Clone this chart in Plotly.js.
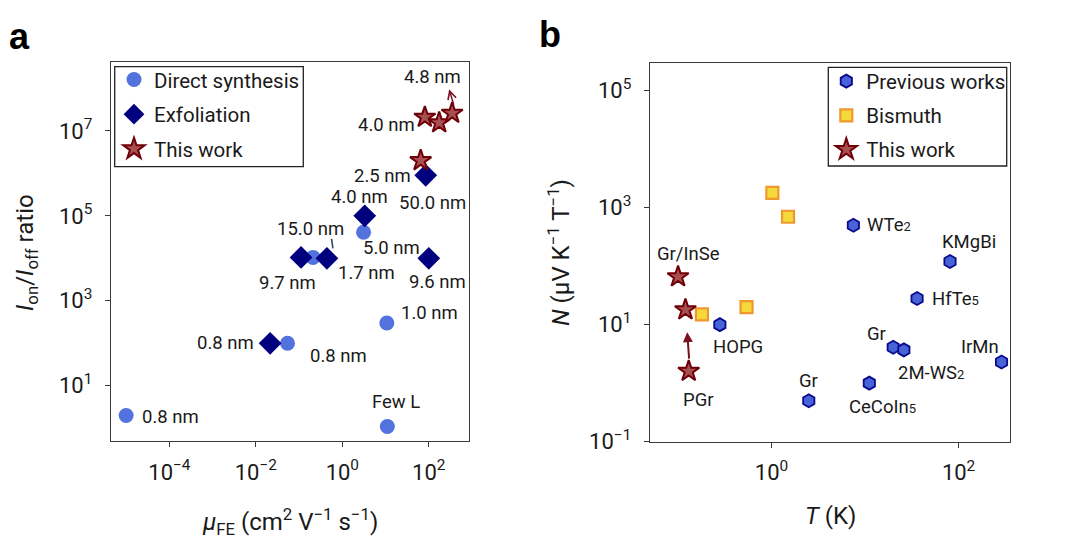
<!DOCTYPE html>
<html><head><meta charset="utf-8">
<script src="https://cdn.plot.ly/plotly-3.0.1.min.js"></script>
<style>html,body{margin:0;padding:0;background:#fff}#chart{width:1078px;height:544px}</style>
</head><body><div id="chart"></div>
<script>
// ---------- Panel a data: field-effect mobility vs on/off ratio ----------
const directMobility = [1e-5, 11, 10.7, 0.054, 3.1, 0.21];
const directRatio    = [2, 1.1, 300, 100, 4.1e4, 1.05e4];
const directLabels   = ['0.8 nm', 'Few L', '1.0 nm', '0.8 nm', '5.0 nm', '15.0 nm'];

const exfoMobility = [0.0214, 0.111, 0.44, 3.3, 100, 85];
const exfoRatio    = [100, 1.05e4, 1.0e4, 1.0e5, 1.0e4, 9e5];
const exfoLabels   = ['0.8 nm', '9.7 nm', '1.7 nm', '4.0 nm', '9.6 nm', '50.0 nm'];

const workMobility = [65, 81, 174, 347];
const workRatio    = [2.0e6, 2.1e7, 1.55e7, 2.6e7];
const workLabels   = ['2.5 nm', '4.0 nm', '', '4.8 nm'];

// ---------- Panel b data: temperature vs Nernst coefficient ----------
const prevT      = [7.5, 81, 36, 0.28, 20, 26, 288, 11.1, 2.5];
const prevN      = [500, 120, 28, 10, 4.1, 3.7, 2.3, 1.0, 0.5];
const prevLabels = ['WTe<span style="font-size:13px">2</span>', 'KMgBi', 'HfTe<span style="font-size:13px">5</span>', 'HOPG', 'Gr',
                    '2M-WS<span style="font-size:13px">2</span>', 'IrMn', 'CeCoIn<span style="font-size:13px">5</span>', 'Gr'];

const bismuthT = [1.02, 1.5, 0.18, 0.54];
const bismuthN = [1800, 700, 15, 20];

const workT      = [0.1, 0.12, 0.13];
const workN      = [66, 18, 1.6];
const workBLabels = ['Gr/InSe', '', 'PGr'];

// ---------- Tick labels ----------
const aXTickVals = [1e-4, 1e-2, 1, 100];
const aXTickText = ['10<sup>\u22124</sup>', '10<sup>\u22122</sup>', '10<sup>0</sup>', '10<sup>2</sup>'];
const aYTickVals = [10, 1e3, 1e5, 1e7];
const aYTickText = ['10<sup>1</sup>', '10<sup>3</sup>', '10<sup>5</sup>', '10<sup>7</sup>'];
const bXTickVals = [1, 100];
const bXTickText = ['10<sup>0</sup>', '10<sup>2</sup>'];
const bYTickVals = [0.1, 10, 1e3, 1e5];
const bYTickText = ['10<sup>\u22121</sup>', '10<sup>1</sup>', '10<sup>3</sup>', '10<sup>5</sup>'];

// ---------- Label placement (pixel offsets from the point: dx, dy down, anchor) ----------
const directOff = [[14, 2, 'left'], [9, -24, 'center'], [43, -10, 'center'], [51, 13, 'center'], [28, 16, 'center'], [-3, -28, 'center']];
const exfoOff   = [[-14, 0, 'right'], [-14, 26, 'center'], [40, 15, 'center'], [-5, -19, 'center'], [9, 24, 'center'], [7, 28, 'center']];
const workOff   = [[-38, 15, 'center'], [-38, 8, 'center'], [0, 0, 'center'], [-20, -36, 'center']];
const prevOff   = [[12, 0, 'left'], [19, -20, 'center'], [13, 0, 'left'], [18, 22, 'center'], [-17, -13, 'center'],
                   [27, 23, 'center'], [-22, -15, 'center'], [13, 24, 'center'], [0, -20, 'center']];
const workBOff  = [[10, -23, 'center'], [0, 0, 'center'], [10, 29, 'center']];

const W = 1078, H = 544;
const textColor = '#1a1a1a';
const frameColor = '#3a3a3a';
const starFill = '#a84f52', starEdge = '#6e0008';
const labelSize = 18.5;

const traces = [
  {x: directMobility, y: directRatio, xaxis: 'x', yaxis: 'y', mode: 'markers', type: 'scatter', name: 'Direct synthesis',
   legend: 'legend', legendgroup: 'a1',
   marker: {symbol: 'circle', size: 15, color: '#5272dd', line: {width: 0}}},
  {x: exfoMobility, y: exfoRatio, xaxis: 'x', yaxis: 'y', mode: 'markers', type: 'scatter', name: 'Exfoliation',
   legend: 'legend', legendgroup: 'a2',
   marker: {symbol: 'diamond', size: 17.5, color: '#00007f', line: {width: 0}}},
  {x: workMobility, y: workRatio, xaxis: 'x', yaxis: 'y', mode: 'markers', type: 'scatter', name: 'This work',
   legend: 'legend', legendgroup: 'a3',
   marker: {symbol: 'star', size: 16, color: starFill, line: {width: 2, color: starEdge}}},
  {x: prevT, y: prevN, xaxis: 'x2', yaxis: 'y2', mode: 'markers', type: 'scatter', name: 'Previous works',
   legend: 'legend2', legendgroup: 'b1',
   marker: {symbol: 'hexagon', size: 13, color: '#4862d8', line: {width: 1.8, color: '#0a0a8c'}}},
  {x: bismuthT, y: bismuthN, xaxis: 'x2', yaxis: 'y2', mode: 'markers', type: 'scatter', name: 'Bismuth',
   legend: 'legend2', legendgroup: 'b2',
   marker: {symbol: 'square', size: 12, color: '#f5d83a', line: {width: 2.2, color: '#f09830'}}},
  {x: workT, y: workN, xaxis: 'x2', yaxis: 'y2', mode: 'markers', type: 'scatter', name: 'This work',
   legend: 'legend2', legendgroup: 'b3',
   marker: {symbol: 'star', size: 16, color: starFill, line: {width: 2, color: starEdge}}}
];

const annotations = [];
function addLabels(xs, ys, texts, offs, xref, yref, size) {
  xs.forEach((xv, i) => {
    if (!texts[i]) return;
    const o = offs[i];
    annotations.push({x: Math.log10(xv), y: Math.log10(ys[i]), xref: xref, yref: yref, text: texts[i],
      showarrow: false, xanchor: o[2], yanchor: 'middle', xshift: o[0], yshift: -o[1],
      font: {size: size, color: textColor}});
  });
}
addLabels(directMobility, directRatio, directLabels, directOff, 'x', 'y', labelSize);
addLabels(exfoMobility, exfoRatio, exfoLabels, exfoOff, 'x', 'y', labelSize);
addLabels(workMobility, workRatio, workLabels, workOff, 'x', 'y', labelSize);
addLabels(prevT, prevN, prevLabels, prevOff, 'x2', 'y2', labelSize);
addLabels(workT, workN, workBLabels, workBOff, 'x2', 'y2', labelSize);

// leader line for 15.0 nm
annotations.push({x: Math.log10(exfoMobility[2]), y: Math.log10(exfoRatio[2]), xref: 'x', yref: 'y', text: '',
  showarrow: true, arrowhead: 0, arrowwidth: 1.6, arrowcolor: '#2d4a70', xshift: 6, yshift: 10, ax: -1.5, ay: -11, axref: 'pixel', ayref: 'pixel'});
// small arrow near 4.8 nm
annotations.push({x: Math.log10(workMobility[3]), y: Math.log10(workRatio[3]), xref: 'x', yref: 'y', text: '',
  showarrow: true, arrowhead: 5, arrowsize: 1.1, arrowwidth: 1.5, arrowcolor: '#7a1428', xshift: -3, yshift: 24, ax: 5, ay: 17});
// arrow from PGr upward
annotations.push({x: Math.log10(workT[2]), y: Math.log10(workN[2]), xref: 'x2', yref: 'y2', text: '',
  showarrow: true, arrowhead: 2, arrowsize: 1, arrowwidth: 2, arrowcolor: '#7a1020', xshift: -1.5, yshift: 39, ax: 2, ay: 28});

// axis titles and panel letters
annotations.push(
  {xref: 'paper', yref: 'paper', x: 290 / W, y: 1 - 521 / H, xanchor: 'center', yanchor: 'middle', showarrow: false,
   text: '<i>μ</i><sub>FE</sub> (cm<sup>2</sup> V<sup>\u22121</sup> s<sup>\u22121</sup>)', font: {size: 24, color: textColor}},
  {xref: 'paper', yref: 'paper', x: 26 / W, y: 1 - 253 / H, xanchor: 'center', yanchor: 'middle', showarrow: false, textangle: -90,
   text: '<i>I</i><sub>on</sub>/<i>I</i><sub>off</sub> ratio', font: {size: 24, color: textColor}},
  {xref: 'paper', yref: 'paper', x: 830 / W, y: 1 - 516 / H, xanchor: 'center', yanchor: 'middle', showarrow: false,
   text: '<i>T</i> (K)', font: {size: 24, color: textColor}},
  {xref: 'paper', yref: 'paper', x: 559 / W, y: 1 - 253 / H, xanchor: 'center', yanchor: 'middle', showarrow: false, textangle: -90,
   text: '<i>N</i> (μV K<sup>\u22121</sup> T<sup>\u22121</sup>)', font: {size: 24, color: textColor}},
  {xref: 'paper', yref: 'paper', x: 7 / W, y: 1 - 37 / H, xanchor: 'left', yanchor: 'middle', showarrow: false,
   text: '<b>a</b>', font: {size: 36, color: '#000', family: 'Liberation Sans, Arial, sans-serif'}},
  {xref: 'paper', yref: 'paper', x: 537 / W, y: 1 - 34 / H, xanchor: 'left', yanchor: 'middle', showarrow: false,
   text: '<b>b</b>', font: {size: 36, color: '#000', family: 'Liberation Sans, Arial, sans-serif'}}
);

// legend frames (drawn separately so the box matches the reference padding)
const shapes = [
  {type: 'rect', xref: 'paper', yref: 'paper', x0: 114.7 / W, x1: 303.3 / W, y0: 1 - 166.7 / H, y1: 1 - 66.7 / H,
   line: {color: '#222', width: 1.3}, fillcolor: 'rgba(0,0,0,0)', layer: 'above'},
  {type: 'rect', xref: 'paper', yref: 'paper', x0: 828.3 / W, x1: 1006.7 / W, y0: 1 - 166 / H, y1: 1 - 67.3 / H,
   line: {color: '#222', width: 1.3}, fillcolor: 'rgba(0,0,0,0)', layer: 'above'}
];

function axisBase() {
  return {type: 'log', showgrid: false, zeroline: false, showline: true, mirror: true, linecolor: frameColor, linewidth: 1.3,
          ticks: 'outside', ticklen: 5, tickwidth: 1.1, tickcolor: frameColor, tickmode: 'array',
          tickfont: {size: 22, color: textColor}};
}
const layout = {
  width: W, height: H, margin: {l: 0, r: 0, t: 0, b: 0}, paper_bgcolor: '#fff', plot_bgcolor: '#fff',
  font: {family: 'Roboto, sans-serif', color: textColor, size: 20},
  showlegend: true,
  xaxis: Object.assign(axisBase(), {domain: [111 / W, 469 / W], range: [-5.35, 2.93], anchor: 'y', tickvals: aXTickVals, ticktext: aXTickText, ticklabelstandoff: 6}),
  yaxis: Object.assign(axisBase(), {domain: [1 - 441 / H, 1 - 62 / H], range: [-0.30, 8.62], anchor: 'x', tickvals: aYTickVals, ticktext: aYTickText, ticklabelstandoff: 8}),
  xaxis2: Object.assign(axisBase(), {domain: [650 / W, 1010 / W], range: [-1.30, 2.55], anchor: 'y2', tickvals: bXTickVals, ticktext: bXTickText, ticklabelstandoff: 6}),
  yaxis2: Object.assign(axisBase(), {domain: [1 - 441.7 / H, 1 - 63.3 / H], range: [-1.002, 5.47], anchor: 'x2', tickvals: bYTickVals, ticktext: bYTickText, ticklabelstandoff: 8}),
  legend: {x: 114 / W, y: 1 - 59.7 / H, xanchor: 'left', yanchor: 'top', xref: 'paper', yref: 'paper',
           bgcolor: 'rgba(0,0,0,0)', borderwidth: 0, font: {size: 20.5, color: textColor},
           traceorder: 'grouped', tracegroupgap: 5},
  legend2: {x: 826.3 / W, y: 1 - 61.3 / H, xanchor: 'left', yanchor: 'top', xref: 'paper', yref: 'paper',
           bgcolor: 'rgba(0,0,0,0)', borderwidth: 0, font: {size: 20.5, color: textColor},
           traceorder: 'grouped', tracegroupgap: 4.5},
  shapes: shapes,
  annotations: annotations
};

Plotly.newPlot('chart', traces, layout, {staticPlot: true, displayModeBar: false});
</script>
</body></html>
